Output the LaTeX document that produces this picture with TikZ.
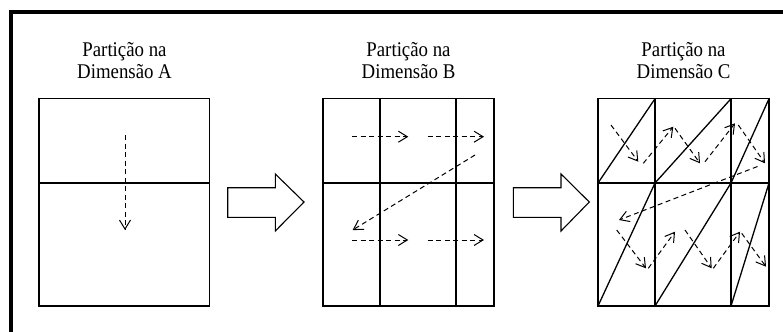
\documentclass[tikz,border=0pt]{standalone}
\usepackage{fontspec}
\setmainfont[FakeStretch=0.9]{Liberation Serif}
\usetikzlibrary{arrows.meta}
\begin{document}
\begin{tikzpicture}[x=1bp,y=-1bp,
  panel/.style={draw=black, line width=1.1bp},
  divider/.style={draw=black, line width=1.6bp},
  blockarrow/.style={draw=black, fill=white, line width=1.1bp, line join=miter},
  flow/.style={line width=1bp, dash pattern=on 5bp off 3.5bp,
    -{Straight Barb[length=9bp,width=11bp,line width=1bp]}},
  title/.style={anchor=base, inner sep=0pt, font=\fontsize{21}{21.6}\selectfont}
]
\useasboundingbox (0,0) rectangle (783,331);

% outer frame (only top and left edges fall inside the page)
\draw[line width=4bp] (10.5,340) -- (10.5,12.3) -- (795,12.3);

% titles
\node[title] (tA1) at (124.5,56.7) {Partição na};
\node[title] (tA2) at (124.5,78.3) {Dimensão A};
\node[title] (tB1) at (408.5,56.7) {Partição na};
\node[title] (tB2) at (408.5,78.3) {Dimensão B};
\node[title] (tC1) at (683.5,56.7) {Partição na};
\node[title] (tC2) at (683.5,78.3) {Dimensão C};

% ---- panel A: split along dimension A
\coordinate (a1) at (125,135);
\coordinate (a2) at (125,230);
\draw[flow] (a1) -- (a2);
\draw[divider] (39,183) -- (209.5,183);
\draw[panel] (39,98.7) rectangle (209.5,306);

% ---- arrow A -> B
\draw[blockarrow] (227.7,187.7) -- (275.3,187.7) -- (275.3,174) -- (304,202)
  -- (275.3,231) -- (275.3,217.3) -- (227.7,217.3) -- cycle;

% ---- panel B: split along dimension B
\draw[divider] (323,183) -- (494,183);
\draw[divider] (380,98.7) -- (380,306);
\draw[divider] (456,98.7) -- (456,306);
\draw[panel] (323,98.7) rectangle (494,306);
\coordinate (b1) at (352,136.7);   \coordinate (b2) at (408.3,136.7);
\coordinate (b3) at (427.7,136.7); \coordinate (b4) at (484,136.7);
\coordinate (b5) at (475,155);     \coordinate (b6) at (352.7,230);
\coordinate (b7) at (352,240);     \coordinate (b8) at (408.3,240);
\coordinate (b9) at (427.7,240);   \coordinate (b10) at (484,240);
\draw[flow] (b1) -- (b2);
\draw[flow] (b3) -- (b4);
\draw[flow] (b5) -- (b6);
\draw[flow] (b7) -- (b8);
\draw[flow] (b9) -- (b10);

% ---- arrow B -> C
\draw[blockarrow] (513.3,187.7) -- (561,187.7) -- (561,174) -- (589.3,202)
  -- (561,231) -- (561,217.3) -- (513.3,217.3) -- cycle;

% ---- panel C: split along dimension C
\draw[divider] (598,183) -- (769,183);
\draw[divider] (655,98.7) -- (655,306);
\draw[divider] (731,98.7) -- (731,306);
\draw[panel] (598,98.7) rectangle (769,306);
% diagonal cuts
\draw[divider, line width=1.3bp] (598,183) -- (655,98.7);
\draw[divider, line width=1.3bp] (655,183) -- (731,98.7);
\draw[divider, line width=1.3bp] (731,183) -- (769,98.7);
\draw[divider, line width=1.3bp] (598,306) -- (655,183);
\draw[divider, line width=1.3bp] (655,306) -- (731,183);
\draw[divider, line width=1.3bp] (731,306) -- (769,183);
% zig-zag traversal, upper row
\coordinate (c1) at (611,125);     \coordinate (c2) at (638.3,161.7);
\coordinate (c3) at (643.3,163.3); \coordinate (c4) at (673.3,126.7);
\coordinate (c5) at (675,128.3);   \coordinate (c6) at (700,163.3);
\coordinate (c7) at (705,161.7);   \coordinate (c8) at (735,123.3);
\coordinate (c9) at (738.3,125);   \coordinate (c10) at (765,163.3);
\draw[flow] (c1) -- (c2);
\draw[flow] (c3) -- (c4);
\draw[flow] (c5) -- (c6);
\draw[flow] (c7) -- (c8);
\draw[flow] (c9) -- (c10);
% return sweep
\coordinate (c11) at (757.5,166.5); \coordinate (c12) at (619,220);
\draw[flow] (c11) -- (c12);
% zig-zag traversal, lower row
\coordinate (d1) at (616.7,230);   \coordinate (d2) at (646,268.3);
\coordinate (d3) at (648.3,268.3); \coordinate (d4) at (675,231.7);
\coordinate (d5) at (685,230);     \coordinate (d6) at (711.7,268.3);
\coordinate (d7) at (713.3,268.3); \coordinate (d8) at (740,231.7);
\coordinate (d9) at (741.7,233.3); \coordinate (d10) at (766,266.7);
\draw[flow] (d1) -- (d2);
\draw[flow] (d3) -- (d4);
\draw[flow] (d5) -- (d6);
\draw[flow] (d7) -- (d8);
\draw[flow] (d9) -- (d10);
\end{tikzpicture}
\end{document}
